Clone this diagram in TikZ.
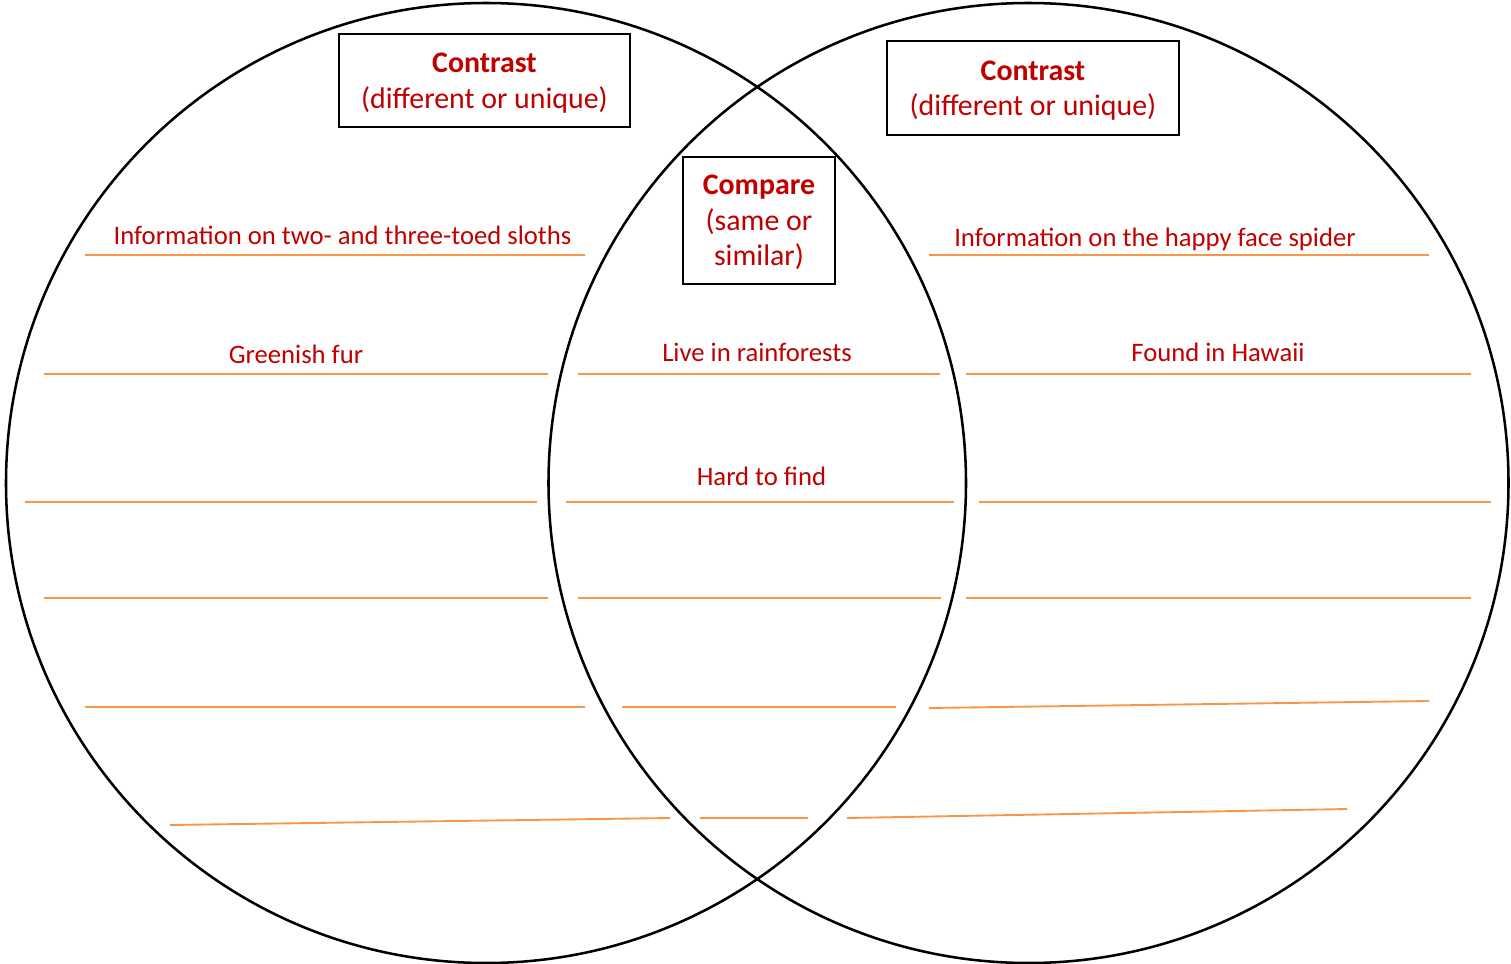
\documentclass[tikz,border=0pt]{standalone}
\usepackage{fontspec}
\setmainfont{Carlito}
\usepackage{tikz}
\usepackage{xcolor}

\definecolor{notered}{HTML}{C00000}
\definecolor{ruleorange}{HTML}{F79646}

\begin{document}
\begin{tikzpicture}[x=0.75pt,y=-0.75pt,
        ring/.style={draw=black,line width=1.9pt},
        headbox/.style={draw=black,line width=0.9pt,fill=white,align=center,inner sep=0pt,
            text depth=0pt,text=notered,font=\fontsize{22.4}{26.6}\selectfont},
        writeline/.style={draw=ruleorange,line width=1.4pt},
        entry/.style={text=notered,font=\fontsize{20}{24}\selectfont,anchor=base,inner sep=0pt}]
        \useasboundingbox (0,0) rectangle (1511,964);

        % the two overlapping sets
        \draw[ring] (486,483) circle[radius=480];
        \draw[ring] (1028.5,483) circle[radius=480];

        % headings
        \node[headbox,minimum width=218.25pt,minimum height=69.75pt] (leftHead) at (484.5,80.5)
            {\textbf{Contrast}\\(different or unique)};
        \node[headbox,minimum width=219pt,minimum height=70.5pt] (rightHead) at (1033,88)
            {\textbf{Contrast}\\(different or unique)};
        \node[headbox,minimum width=114pt,minimum height=95.25pt] (midHead) at (759,220.5)
            {\textbf{Compare}\\(same or\\similar)};

        % lines to write on: left / middle / right
        \foreach \xa/\xb/\y in {85/585/255, 44/548/374, 25/537/502, 44/548/598, 85/585/707} {
            \draw[writeline] (\xa,\y) -- (\xb,\y);
        }
        \foreach \xa/\xb/\y in {578/940/374, 566/954/502, 578/941/598, 622/896/707, 700/808/818} {
            \draw[writeline] (\xa,\y) -- (\xb,\y);
        }
        \foreach \xa/\xb/\y in {929/1429/255, 966/1471/374, 979/1491/502, 966/1471/598} {
            \draw[writeline] (\xa,\y) -- (\xb,\y);
        }
        \draw[writeline] (170,825) -- (670,818);
        \draw[writeline] (929,708) -- (1429,701);
        \draw[writeline] (847,818) -- (1347,809);

        % filled-in entries
        \node[entry] (slothInfo) at (342.5,244) {Information on two- and three-toed sloths};
        \node[entry] (greenFur) at (296,363) {Greenish fur};
        \node[entry] (rainforest) at (757,361) {Live in rainforests};
        \node[entry] (hardFind) at (761.5,485) {Hard to find};
        \node[entry] (spiderInfo) at (1155,246) {Information on the happy face spider};
        \node[entry] (hawaii) at (1218,361) {Found in Hawaii};
    \end{tikzpicture}
\end{document}
